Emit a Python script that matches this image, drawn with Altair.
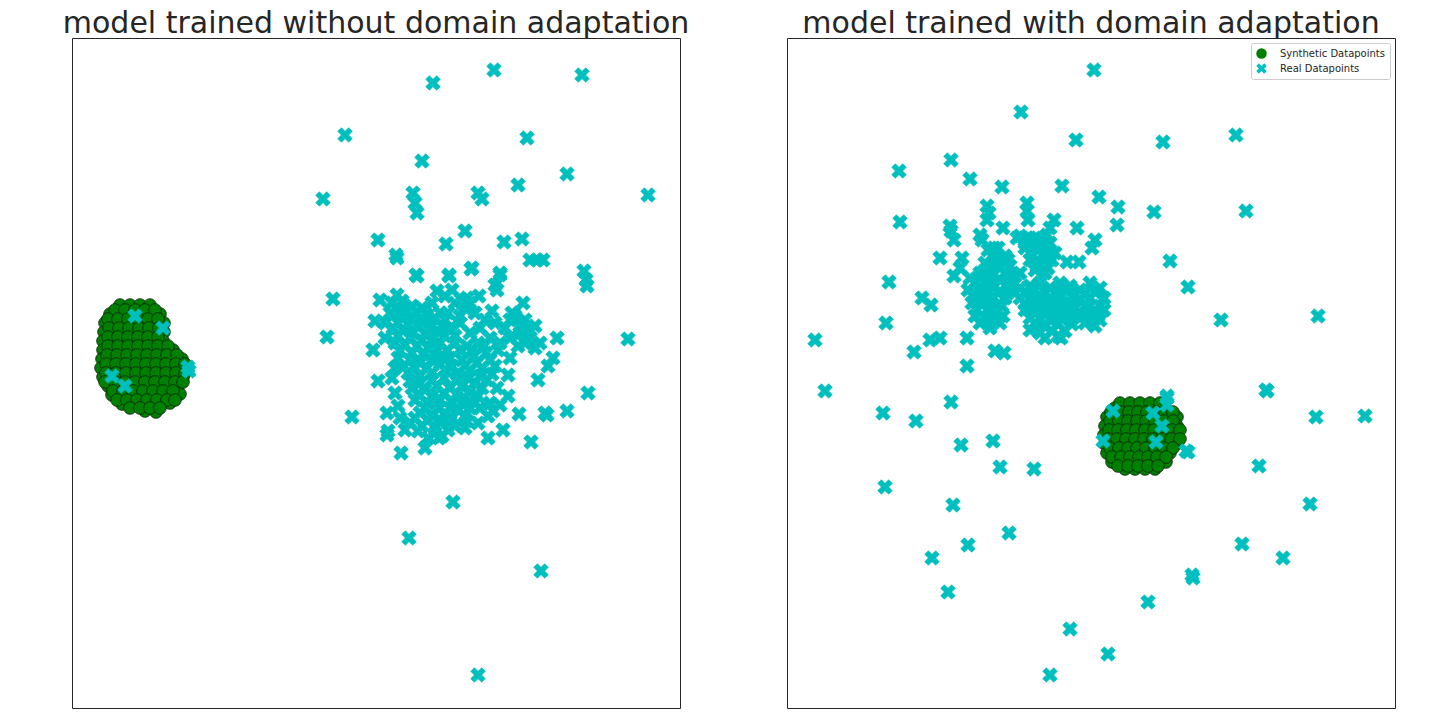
import altair as alt
import pandas as pd

# ---- embedding coordinates (arbitrary t-SNE units; y grows downward) ----
# Panel 1: model trained without domain adaptation
P1_SYN = [
    (120,307),(130,307),(140,307),(150,307),
    (110,316),(120,316),(130,316),(140,316),(150,316),(160,316),
    (105,325),(115,325),(125,325),(135,325),(145,325),(155,325),(164,325),
    (104,334),(114,334),(124,334),(134,334),(144,334),(154,334),(164,334),
    (103,343),(113,343),(123,343),(133,343),(143,343),(153,343),(163,343),
    (103,352),(113,352),(123,352),(133,352),(143,352),(153,352),(163,352),(173,352),
    (102,361),(112,361),(122,361),(132,361),(142,361),(152,361),(162,361),(172,361),(182,361),
    (101,370),(111,370),(121,370),(131,370),(141,370),(151,370),(161,370),(171,370),(181,370),(187,372),
    (103,379),(113,379),(123,379),(133,379),(143,379),(153,379),(163,379),(173,379),(183,379),
    (108,388),(118,388),(128,388),(138,388),(148,388),(158,388),(168,388),(178,388),
    (112,397),(122,397),(132,397),(142,397),(152,397),(162,397),(172,397),(180,396),
    (122,406),(132,406),(142,406),(152,406),(162,406),(170,405),
    (145,413),(156,414),
    (115,312),(125,312),(135,312),(145,312),(155,312),
    (108,321),(118,321),(128,321),(138,321),(148,321),(158,321),
    (109,330),(119,330),(129,330),(139,330),(149,330),(159,330),
    (108,339),(118,339),(128,339),(138,339),(148,339),(158,339),
    (108,348),(118,348),(128,348),(138,348),(148,348),(158,348),(168,348),
    (107,357),(117,357),(127,357),(137,357),(147,357),(157,357),(167,357),(177,357),
    (106,366),(116,366),(126,366),(136,366),(146,366),(156,366),(166,366),(176,366),(185,366),
    (106,375),(116,375),(126,375),(136,375),(146,375),(156,375),(166,375),(176,375),(185,375),
    (105,384),(115,384),(125,384),(135,384),(145,384),(155,384),(165,384),(175,384),(183,384),
    (113,393),(123,393),(133,393),(143,393),(153,393),(163,393),(173,393),
    (117,402),(127,402),(137,402),(147,402),(157,402),(167,402),(175,402),
    (130,410),(140,410),(150,410),(160,410),
]
P1_REAL = [
    # inside the synthetic cluster
    (135,318),(163,330),(112,378),(125,388),(188,369),(189,373),
    # outliers
    (433,85),(494,72),(582,77),(345,137),(527,140),(422,163),(567,176),(518,187),
    (323,201),(413,195),(415,205),(417,215),(478,195),(482,201),(648,197),
    (378,242),(396,257),(446,246),(465,233),(504,244),(522,241),
    (530,262),(537,262),(543,262),(471,271),(416,277),(449,277),(500,275),
    (584,273),(586,282),(587,288),(333,301),(327,339),(628,341),
    (397,260),(472,270),(417,278),(449,278),(500,277),(495,287),(497,292),
    (380,302),(397,297),(437,293),(467,300),(479,298),(523,305),
    (375,323),(492,313),(512,315),(557,340),(373,352),(510,360),(553,360),(548,368),
    (538,382),(378,383),(508,377),(497,390),(508,398),(588,395),(567,413),(547,417),
    (519,416),(387,415),(493,413),(388,433),(387,437),(467,423),(450,423),(488,440),
    (503,432),(531,444),(401,455),(425,450),(439,440),(449,425),(500,407),(545,415),
    (352,419),(453,504),(409,540),(541,573),(478,677),
    # dense core
    (392,305),(402,303),(412,308),(422,310),(432,305),(440,315),
    (390,315),(400,318),(410,320),(420,322),(430,325),
    (393,330),(403,332),(413,335),(425,336),(437,333),
    (395,345),(405,347),(417,348),(428,350),(440,345),
    (398,360),(410,362),(420,365),(432,362),(443,358),
    (450,330),(460,325),(470,335),(480,330),(455,345),(467,348),(478,345),(490,340),
    (450,360),(462,362),(474,358),(486,355),(498,352),
    (408,375),(420,378),(432,375),(445,372),(457,376),(470,372),(482,370),(495,368),
    (412,390),(425,392),(437,388),(450,390),(462,388),(475,385),(487,382),
    (415,402),(428,405),(440,402),(452,404),(465,400),(478,398),
    (420,415),(432,418),(445,415),(458,412),(470,410),
    (410,425),(422,428),(435,430),(448,425),(428,440),(442,438),(455,428),
    (445,298),(455,305),(465,310),(475,315),(448,315),(460,318),
    (515,318),(525,322),(535,328),(520,335),(530,340),(540,345),(518,348),(505,330),(500,345),
    (397,310),(407,313),(417,315),(427,317),(435,320),(445,322),
    (398,325),(408,326),(418,328),(430,330),(442,328),
    (398,338),(410,340),(422,342),(433,341),(445,338),(455,338),
    (400,353),(412,355),(423,356),(435,355),(447,352),(460,352),(472,352),(484,348),
    (404,368),(415,370),(427,370),(440,366),(452,368),(465,368),(477,365),(490,362),
    (410,383),(420,385),(432,382),(444,380),(456,382),(468,380),(480,378),(492,376),
    (418,396),(432,398),(444,395),(457,396),(470,393),(482,390),
    (425,410),(438,410),(450,410),(462,406),(475,405),
    (415,420),(428,422),(440,422),(452,420),(465,418),
    (418,433),(435,435),(448,432),
    (452,292),(462,302),(470,305),(485,322),(495,325),(510,322),(520,328),(530,332),
    (510,340),(525,345),(535,350),
    (395,395),(398,408),(400,420),(405,432),(392,380),(395,370),(385,340),(385,325),
    (480,410),(488,418),(478,425),(465,430),(490,405),
]

# Panel 2: model trained with domain adaptation
P2_SYN = [
    (1115,410),(1125,410),(1135,410),(1145,410),(1155,410),(1165,410),
    (1107,419),(1116,419),(1125,419),(1134,419),(1143,419),(1152,419),(1161,419),(1170,419),(1177,419),
    (1105,428),(1114,428),(1123,428),(1132,428),(1141,428),(1150,428),(1159,428),(1168,428),(1177,428),
    (1104,437),(1113,437),(1122,437),(1131,437),(1140,437),(1149,437),(1158,437),(1167,437),(1176,437),
    (1105,446),(1114,446),(1123,446),(1132,446),(1141,446),(1150,446),(1159,446),(1168,446),(1176,446),
    (1107,455),(1116,455),(1125,455),(1134,455),(1143,455),(1152,455),(1161,455),(1170,455),
    (1112,464),(1121,464),(1130,464),(1139,464),(1148,464),(1157,464),(1166,464),
    (1125,471),(1135,471),(1145,471),(1155,471),
    (1120,405),(1130,405),(1140,405),(1150,405),(1160,405),
    (1111,414),(1120,414),(1129,414),(1138,414),(1147,414),(1156,414),(1165,414),(1173,414),
    (1110,423),(1119,423),(1128,423),(1137,423),(1146,423),(1155,423),(1164,423),(1173,423),
    (1109,432),(1118,432),(1127,432),(1136,432),(1145,432),(1154,432),(1163,432),(1172,432),(1180,432),
    (1108,441),(1117,441),(1126,441),(1135,441),(1144,441),(1153,441),(1162,441),(1171,441),(1180,441),
    (1110,450),(1119,450),(1128,450),(1137,450),(1146,450),(1155,450),(1164,450),(1173,450),
    (1112,459),(1121,459),(1130,459),(1139,459),(1148,459),(1157,459),(1166,459),
    (1118,468),(1128,468),(1138,468),(1148,468),(1158,468),
]
P2_REAL = [
    # inside / on the synthetic cluster
    (1113,413),(1167,400),(1167,407),(1153,415),(1162,428),(1103,443),(1156,444),(1186,453),(1188,454),
    # outliers
    (1094,72),(1021,114),(1076,142),(951,162),(899,173),(970,181),(1002,189),(1062,188),
    (1099,199),(1118,209),(1117,227),(900,224),(987,208),(989,215),(987,222),
    (1027,205),(1027,213),(1028,222),(950,228),(951,233),(954,242),(1003,230),
    (980,237),(982,242),(1054,222),(1050,230),(1047,237),(1077,230),(1095,242),(1092,250),
    (1017,240),(1027,240),(1035,240),(994,250),(940,260),(962,260),(960,270),
    (1067,264),(1079,264),(954,278),(889,284),(922,300),(931,307),(886,325),(815,342),
    (914,354),(930,342),(940,340),(967,340),(967,368),(995,353),(1004,355),(1061,340),
    (825,393),(1163,144),(1236,137),(1154,214),(1246,213),(1170,263),(1188,289),
    (1221,322),(1318,318),(1267,393),(1167,398),
    (883,415),(916,423),(951,404),(961,447),(993,443),(1000,469),(1034,471),(885,489),
    (953,507),(1009,535),(968,547),(932,560),(948,594),(1070,631),(1108,656),(1050,677),
    (1148,604),(1192,577),(1193,580),(1242,546),(1283,560),(1310,506),(1259,468),
    (1266,392),(1316,419),(1365,418),
    # dense core
    (970,280),(980,275),(990,278),(1000,282),(968,292),(978,290),(988,293),(998,295),(1008,290),
    (972,305),(982,303),(992,306),(1002,308),(975,318),(985,320),(995,316),(990,330),(1000,325),
    (988,252),(995,262),(1005,258),(985,265),(1000,270),(1010,268),(1015,278),(1020,275),
    (1020,238),(1030,240),(1040,242),(1050,245),(1025,250),(1037,252),(1048,255),(1030,262),
    (1042,265),(1052,262),(1035,272),(1045,275),(1010,285),
    (1020,290),(1030,288),(1040,285),(1050,290),(1060,285),(1070,288),(1080,292),(1090,285),(1100,290),(1104,300),
    (1020,300),(1030,302),(1040,298),(1050,303),(1060,300),(1070,305),(1080,302),(1090,300),(1100,308),
    (1025,312),(1035,315),(1045,312),(1055,318),(1065,314),(1075,318),(1088,315),(1098,318),(1104,312),
    (1035,325),(1045,328),(1058,326),(1070,322),(1085,325),(1095,328),
    (1040,335),(1052,333),(1065,333),
    (975,285),(985,285),(995,288),(1005,300),(973,298),(983,298),(993,300),(977,312),(987,312),
    (997,312),(980,325),(992,322),(1003,318),
    (992,258),(998,250),(1008,262),(992,270),(1005,275),(1012,280),
    (1025,245),(1035,246),(1045,248),(1032,256),(1043,258),(1055,255),(1037,268),(1048,270),
    (1015,295),(1025,295),(1035,292),(1045,294),(1055,295),(1065,292),(1075,296),(1085,296),(1095,294),
    (1025,306),(1035,308),(1045,306),(1055,310),(1065,308),(1075,310),(1085,308),(1095,312),
    (1030,320),(1040,320),(1050,322),(1062,320),(1072,326),(1080,320),(1092,322),(1100,322),
    (1045,340),(1058,338),(1030,332),
]

TITLES = ["model trained without domain adaptation", "model trained with domain adaptation"]
KINDS = ["Synthetic Datapoints", "Real Datapoints"]
COLORS = ["#008000", "#00bfbf"]
X_DOMAINS = [[72, 680], [787, 1395]]
Y_DOMAIN = [40, 710]

# matplotlib-style filled "X" marker
X_PATH = "M0.5,-1L1,-0.5L0.5,0L1,0.5L0.5,1L0,0.5L-0.5,1L-1,0.5L-0.5,0L-1,-0.5L-0.5,-1L0,-0.5Z"


def frame(points, kind):
    return pd.DataFrame([{"x": x, "y": y, "kind": kind} for x, y in points])


def panel(syn, real, title, xdom, show_legend):
    legend = alt.Legend(
        title=None, orient="top-right", offset=5, padding=5,
        fillColor="white", strokeColor="#cccccc", cornerRadius=2,
        labelFont="DejaVu Sans", labelFontSize=10, labelColor="#262626",
        symbolSize=110, rowPadding=4, labelOffset=13, symbolStrokeWidth=0,
    ) if show_legend else None
    enc = dict(
        x=alt.X("x:Q", scale=alt.Scale(domain=xdom, nice=False, zero=False), axis=None),
        y=alt.Y("y:Q", scale=alt.Scale(domain=Y_DOMAIN, nice=False, zero=False, reverse=True), axis=None),
        color=alt.Color("kind:N", scale=alt.Scale(domain=KINDS, range=COLORS), legend=legend),
        shape=alt.Shape("kind:N", scale=alt.Scale(domain=KINDS, range=["circle", X_PATH]), legend=legend),
    )
    green = alt.Chart(frame(syn, KINDS[0])).mark_point(
        filled=True, opacity=1, size=160, stroke="#102010", strokeWidth=0.8
    ).encode(**enc)
    cyan = alt.Chart(frame(real, KINDS[1])).mark_point(
        filled=True, opacity=1, size=215, stroke=COLORS[1], strokeWidth=0.6
    ).encode(**enc)
    return alt.layer(green, cyan, title=title).properties(width=608, height=670)


left = panel(P1_SYN, P1_REAL, TITLES[0], X_DOMAINS[0], False)
right = panel(P2_SYN, P2_REAL, TITLES[1], X_DOMAINS[1], True)

chart = alt.hconcat(left, right, spacing=96).resolve_legend(
    color="independent", shape="independent"
).properties(
    padding={"left": 54, "top": 0, "right": 5, "bottom": 2},
    background="white",
).configure_view(
    stroke="#262626", strokeWidth=1
).configure_title(
    font="DejaVu Sans", fontSize=30, fontWeight="normal", color="#262626",
    anchor="middle", offset=-0.5, baseline="alphabetic"
)

chart.save("out.html", embed_options={"renderer": "svg", "actions": False})
